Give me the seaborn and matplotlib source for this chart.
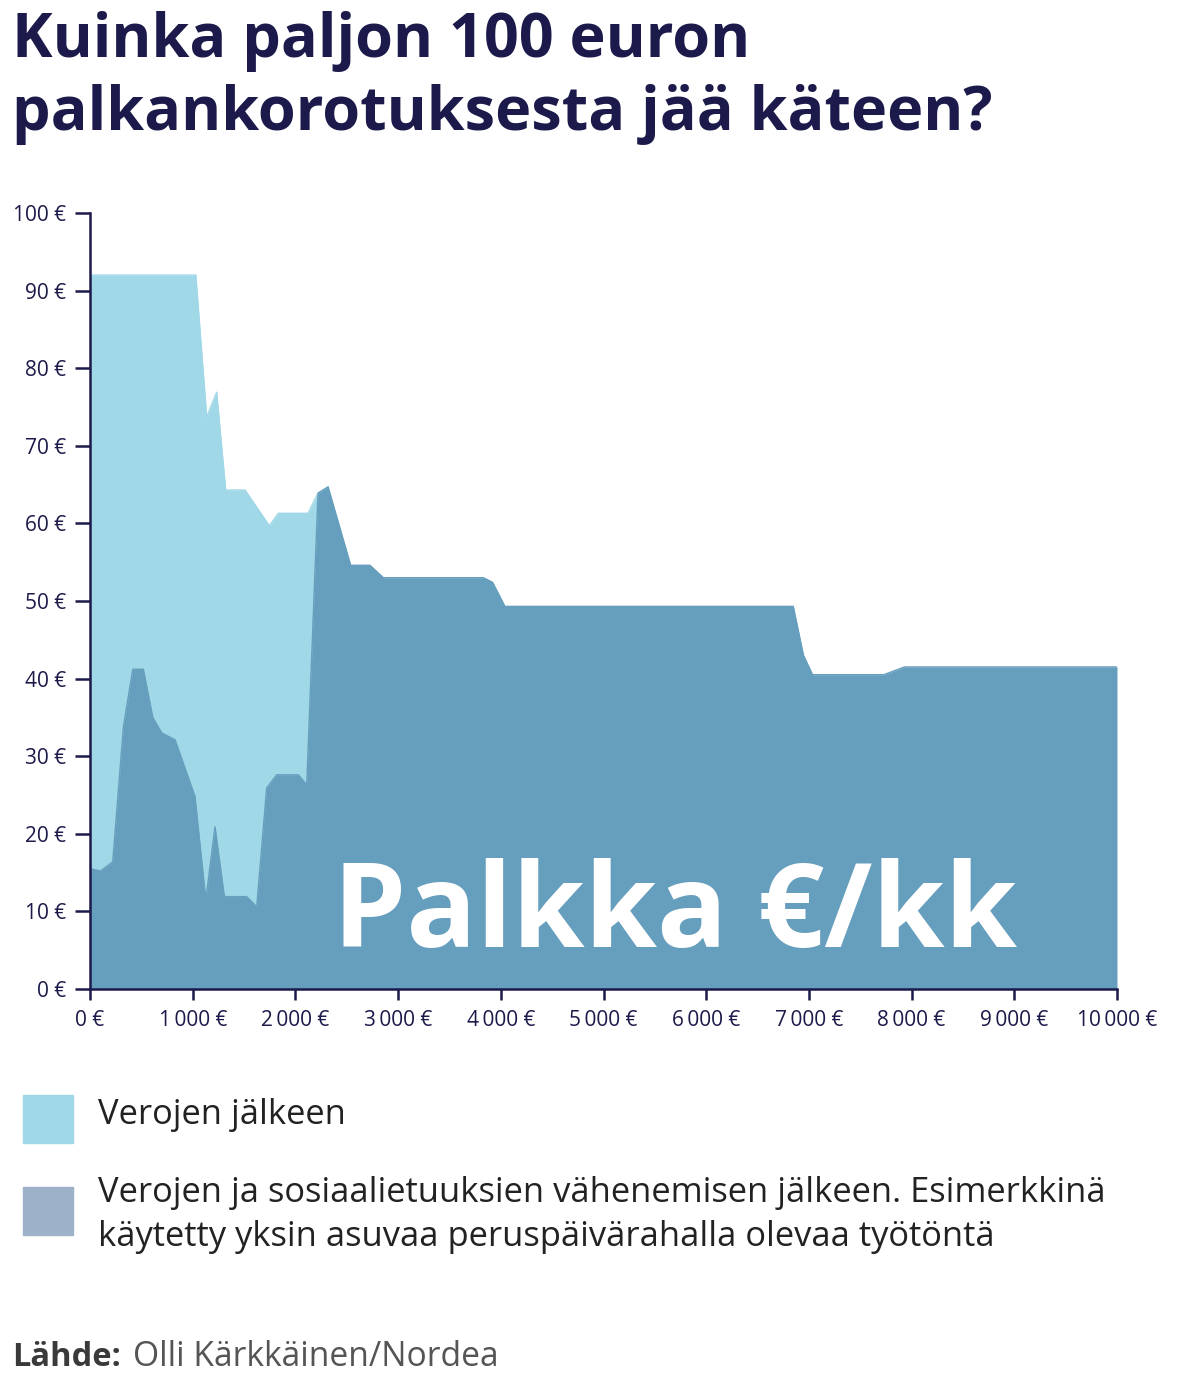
import matplotlib
matplotlib.use('Agg')
import matplotlib.pyplot as plt
import seaborn as sns
import pandas as pd

# DATA ------------------
palkka_verot = [0, 1030, 1136, 1233, 1321, 1509, 1746, 1834, 2123, 2220, 2318]
kateen_verot = [92.0, 92.0, 73.7, 76.9, 64.3, 64.3, 59.7, 61.3, 61.3, 63.9, 64.7]

palkka_etuudet = [0, 104, 221, 325, 416, 519, 611, 698, 828, 1022, 1127, 1217, 1308,
                  1525, 1623, 1720, 1818, 2029, 2110, 2220, 2318, 2538, 2726, 2856,
                  3830, 3920, 4040, 6848, 6947, 7036, 7730, 7932, 10000]
kateen_etuudet = [15.5, 15.2, 16.4, 33.8, 41.2, 41.2, 35.0, 33.0, 32.1, 24.8, 11.5, 20.9, 11.9,
                  11.9, 10.6, 25.9, 27.6, 27.6, 26.3, 63.9, 64.7, 54.6, 54.6, 53.0,
                  53.0, 52.4, 49.3, 49.3, 43.0, 40.5, 40.5, 41.5, 41.5]

y_ticks = [0, 10, 20, 30, 40, 50, 60, 70, 80, 90, 100]
x_ticks = [0, 1000, 2000, 3000, 4000, 5000, 6000, 7000, 8000, 9000, 10000]

legend_labels = ['Verojen jälkeen',
                 'Verojen ja sosiaalietuuksien vähenemisen jälkeen. Esimerkkinä\n'
                 'käytetty yksin asuvaa peruspäivärahalla olevaa työtöntä']

LIGHT = '#a0d8e8'
DARK = '#669ebd'
LEGEND_DARK = '#9db2c8'
NAVY = '#1c1a4a'

# FIGURE ----------------
sns.set_style('white')
plt.rcParams['font.family'] = ['Open Sans', 'DejaVu Sans']

df_v = pd.DataFrame({'palkka': palkka_verot, 'kateen': kateen_verot})
df_e = pd.DataFrame({'palkka': palkka_etuudet, 'kateen': kateen_etuudet})

fig = plt.figure(figsize=(11.99, 13.82), dpi=100)
ax = fig.add_axes([0.0751, 0.2844, 0.8565, 0.5615])

# Light area first, dark area drawn over it
ax.fill_between(df_v['palkka'], df_v['kateen'], color=LIGHT, lw=0)
sns.lineplot(data=df_v, x='palkka', y='kateen', color=LIGHT, lw=1, ax=ax)
ax.fill_between(df_e['palkka'], df_e['kateen'], color=DARK, lw=0)
sns.lineplot(data=df_e, x='palkka', y='kateen', color=DARK, lw=1, ax=ax)

ax.set_xlim(0, 10000)
ax.set_ylim(0, 100)
ax.set_xlabel('')
ax.set_ylabel('')

ax.set_yticks(y_ticks)
ax.set_yticklabels([f'{v} €' for v in y_ticks], fontsize=15, color=NAVY)
ax.set_xticks(x_ticks)
ax.set_xticklabels([(f'{v:,}'.replace(',', '\u2009')) + ' €' for v in x_ticks],
                   fontsize=15, color=NAVY)
ax.tick_params(axis='y', length=11, width=1.8, color=NAVY, pad=6, direction='out', left=True)
ax.tick_params(axis='x', length=8, width=1.8, color=NAVY, pad=7, direction='out', bottom=True)

for s in ['top', 'right']:
    ax.spines[s].set_visible(False)
for s in ['left', 'bottom']:
    ax.spines[s].set_color(NAVY)
    ax.spines[s].set_linewidth(1.8)

ax.text(0.57, 0.093, 'Palkka €/kk', transform=ax.transAxes, ha='center', va='center',
        fontsize=84, fontweight='bold', color='white')

# Title
fig.text(0.010, 0.992, 'Kuinka paljon 100 euron\npalkankorotuksesta jää käteen?',
         ha='left', va='top', fontsize=44, fontweight='bold', color=NAVY, linespacing=1.27)

# Legend
fig.patches.append(plt.Rectangle((23 / 1199, 1 - 1143 / 1382), 50 / 1199, 48 / 1382,
                                 transform=fig.transFigure, color=LIGHT, figure=fig))
fig.patches.append(plt.Rectangle((23 / 1199, 1 - 1235 / 1382), 50 / 1199, 48 / 1382,
                                 transform=fig.transFigure, color=LEGEND_DARK, figure=fig))
fig.text(98 / 1199, 1 - 1115 / 1382, legend_labels[0], ha='left', va='center',
         fontsize=24.8, color='#222222')
fig.text(98 / 1199, 1 - 1215 / 1382, legend_labels[1], ha='left', va='center',
         fontsize=24.8, color='#222222', linespacing=1.35)

# Source
fig.text(12 / 1199, 1 - 1357 / 1382, 'Lähde:', ha='left', va='center',
         fontsize=23.5, fontweight='bold', color='#3a3a3a')
fig.text(133 / 1199, 1 - 1357 / 1382, 'Olli Kärkkäinen/Nordea', ha='left', va='center',
         fontsize=24.2, color='#555555')

fig.savefig('out.png', dpi=100)
